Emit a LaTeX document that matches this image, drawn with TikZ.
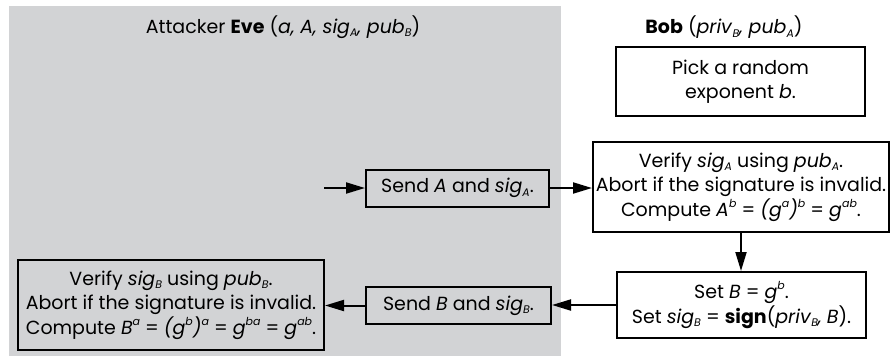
\documentclass[tikz,border=0pt]{standalone}
\usepackage{fontspec}
\setmainfont{Poppins}
\usetikzlibrary{arrows.meta}
\definecolor{evegray}{RGB}{210,211,213}
\newcommand\sbs[1]{\raisebox{-0.35ex}{\fontsize{11}{11}\selectfont\itshape #1}}
\newcommand\sps[1]{\raisebox{0.85ex}{\fontsize{11}{11}\selectfont\itshape #1}}
\begin{document}
\begin{tikzpicture}[x=1pt,y=-1pt,
  txt/.style={font=\fontsize{19}{24.5}\selectfont, align=center, inner sep=0pt},
  box/.style={txt, draw, line width=2pt, rectangle},
  arr/.style={line width=2pt, -{Triangle[length=19pt,width=11pt]}}]
\useasboundingbox (0,0) rectangle (891,356);
\fill[evegray] (9,6) rectangle (561,356);
\node[txt] (eve) at (283,27) {Attacker \textbf{Eve} (\textit{a, A, sig}\sbs{A}\textit{, pub}\sbs{B})};
\node[txt] (bob) at (724,27) {\textbf{Bob} (\textit{priv}\sbs{B}\textit{, pub}\sbs{A})};
\node[box, minimum width=249pt, minimum height=69pt] (pick) at (740.5,81.5) {Pick a random\\exponent \textit{b}.};
\node[box, minimum width=183pt, minimum height=37pt] (sendA) at (457.5,188) {Send \textit{A} and \textit{sig}\sbs{A}.};
\node[box, minimum width=296pt, minimum height=90pt] (verA) at (741,187) {Verify \textit{sig}\sbs{A} using \textit{pub}\sbs{A}.\\Abort if the signature is invalid.\\Compute \textit{A}\sps{b} = \textit{(g}\sps{a}\textit{)}\sps{b} = \textit{g}\sps{ab}.};
\node[box, minimum width=249pt, minimum height=66pt] (setB) at (741.5,305) {Set \textit{B} = \textit{g}\sps{b}.\\Set \textit{sig}\sbs{B} = \textbf{sign}(\textit{priv}\sbs{B}\textit{,} \textit{B}).};
\node[box, minimum width=185pt, minimum height=37pt] (sendB) at (458.5,305.5) {Send \textit{B} and \textit{sig}\sbs{B}.};
\node[box, minimum width=306pt, minimum height=90pt] (verB) at (171,305) {Verify \textit{sig}\sbs{B} using \textit{pub}\sbs{B}.\\Abort if the signature is invalid.\\Compute \textit{B}\sps{a} = \textit{(g}\sps{b}\textit{)}\sps{a} = \textit{g}\sps{ba} = \textit{g}\sps{ab}.};
\coordinate (in) at (324,188);
\draw[arr] (in) -- (sendA.west);
\draw[arr] (sendA.east) -- (verA.west |- sendA.east);
\draw[arr] (verA.south) -- (verA.south |- setB.north);
\draw[arr] (setB.west) -- (sendB.east |- setB.west);
\draw[arr] (sendB.west) -- (verB.east |- sendB.west);
\end{tikzpicture}
\end{document}
